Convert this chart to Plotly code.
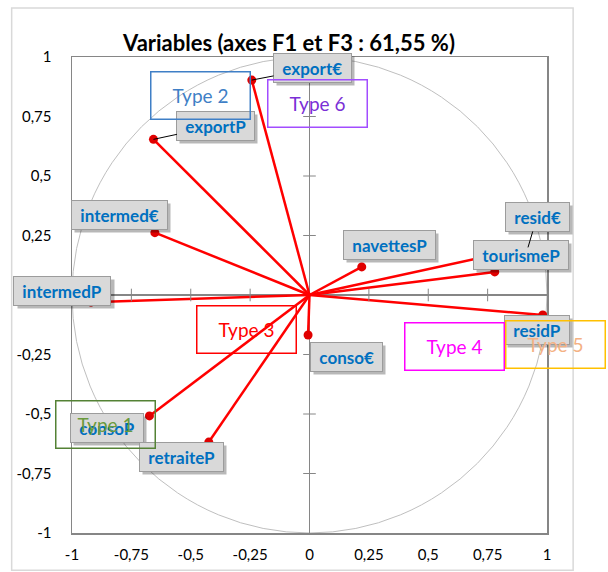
import plotly.graph_objects as go

# ---- data ----
variables = ["export€", "exportP", "intermed€", "intermedP", "navettesP",
             "tourismeP", "resid€", "residP", "conso€", "consoP", "retraiteP"]
f1 = [-0.243, -0.657, -0.651, -0.92, 0.22, 0.78, 0.92, 0.982, -0.006, -0.674, -0.424]
f3 = [0.903, 0.654, 0.262, -0.03, 0.118, 0.097, 0.20, -0.084, -0.168, -0.508, -0.618]

tick_vals = [-1, -0.75, -0.5, -0.25, 0, 0.25, 0.5, 0.75, 1]
tick_text = ["-1", "-0,75", "-0,5", "-0,25", "0", "0,25", "0,5", "0,75", "1"]
inner_ticks = [-0.75, -0.5, -0.25, 0.25, 0.5, 0.75]

type_names = ["Type 1", "Type 2", "Type 3", "Type 4", "Type 5", "Type 6"]

title_text = "Variables (axes F1 et F3 : 61,55 %)"

# ---- layout positions (label centres, in axis units) ----
label_pos = {
    "export€": (0.013, 0.952),
    "exportP": (-0.394, 0.71),
    "intermed€": (-0.80, 0.336),
    "intermedP": (-1.04, 0.017),
    "navettesP": (0.335, 0.21),
    "tourismeP": (0.89, 0.168),
    "resid€": (0.958, 0.328),
    "residP": (0.958, -0.147),
    "conso€": (0.157, -0.26),
    "consoP": (-0.852, -0.559),
    "retraiteP": (-0.538, -0.68),
}
leaders = {"export€", "exportP", "resid€"}

type_pos = {
    "Type 1": (-0.86, -0.544),
    "Type 2": (-0.46, 0.84),
    "Type 3": (-0.265, -0.143),
    "Type 4": (0.612, -0.216),
    "Type 5": (1.036, -0.21),
    "Type 6": (0.034, 0.805),
}
type_style = {
    "Type 1": ("#548235", "#6a9a3c"),
    "Type 2": ("#3f7fc6", "#3f7fc6"),
    "Type 3": ("#ff0000", "#ff0000"),
    "Type 4": ("#ff00ff", "#ff00ff"),
    "Type 5": ("#ffc000", "#f4b183"),
    "Type 6": ("#a24dff", "#7b2fd6"),
}

FONT = "Lato"
AXIS_GREY = "#868686"


def to_paper(v):
    # axis range is [-1, 1] over the full domain
    return (v + 1) / 2.0


fig = go.Figure()

# vectors from origin
lx, ly = [], []
for a, b in zip(f1, f3):
    lx += [0, a, None]
    ly += [0, b, None]
fig.add_trace(go.Scatter(x=lx, y=ly, mode="lines",
                         line=dict(color="#ff0000", width=2.5),
                         hoverinfo="skip", showlegend=False))
fig.add_trace(go.Scatter(x=f1, y=f3, mode="markers",
                         marker=dict(color="#e00000", size=9),
                         text=variables, showlegend=False))

# tick crosses on the zero axes
fig.add_trace(go.Scatter(x=inner_ticks, y=[0] * len(inner_ticks), mode="markers",
                         marker=dict(symbol="line-ns", size=9,
                                     line=dict(color=AXIS_GREY, width=1)),
                         hoverinfo="skip", showlegend=False))
fig.add_trace(go.Scatter(x=[0] * len(inner_ticks), y=inner_ticks, mode="markers",
                         marker=dict(symbol="line-ew", size=9,
                                     line=dict(color=AXIS_GREY, width=1)),
                         hoverinfo="skip", showlegend=False))

shapes = [
    # correlation circle
    dict(type="circle", xref="x", yref="y", x0=-1, y0=-1, x1=1, y1=1,
         line=dict(color="#bfbfbf", width=1), layer="below"),
    # outer chart border
    dict(type="rect", xref="paper", yref="paper", x0=-0.127, x1=1.055,
         y0=-0.078, y1=1.103, line=dict(color="#d9d9d9", width=1.5)),
]

LBL_FONT = 17
annotations = []
for v, a, b in zip(variables, f1, f3):
    cx, cy = label_pos[v]
    common = dict(text="&nbsp;<b>%s</b>&nbsp;" % v, borderpad=4, borderwidth=1,
                  height=20, xanchor="center", yanchor="middle")
    if v in leaders:
        annotations.append(dict(x=a, y=b, ax=cx, ay=cy, axref="x", ayref="y",
                                xref="x", yref="y", showarrow=True, arrowhead=0,
                                arrowwidth=0.1, arrowcolor="rgba(0,0,0,0)",
                                font=dict(family=FONT, size=LBL_FONT, color="rgba(0,0,0,0)"),
                                bgcolor="rgba(0,0,0,0.28)", bordercolor="rgba(0,0,0,0)",
                                xshift=3, yshift=-3, **common))
        annotations.append(dict(x=a, y=b, ax=cx, ay=cy, axref="x", ayref="y",
                                xref="x", yref="y", showarrow=True, arrowhead=0,
                                arrowwidth=1, arrowcolor="#000000", standoff=0,
                                font=dict(family=FONT, size=LBL_FONT, color="#0070c0"),
                                bgcolor="#d9d9d9", bordercolor="#9c9c9c", **common))
    else:
        px_, py_ = to_paper(cx), to_paper(cy)
        annotations.append(dict(x=px_, y=py_, xref="paper", yref="paper", showarrow=False,
                                font=dict(family=FONT, size=LBL_FONT, color="rgba(0,0,0,0)"),
                                bgcolor="rgba(0,0,0,0.28)", bordercolor="rgba(0,0,0,0)",
                                xshift=3, yshift=-3, **common))
        annotations.append(dict(x=px_, y=py_, xref="paper", yref="paper", showarrow=False,
                                font=dict(family=FONT, size=LBL_FONT, color="#0070c0"),
                                bgcolor="#d9d9d9", bordercolor="#9c9c9c", **common))

for t in type_names:
    cx, cy = type_pos[t]
    bc, tc = type_style[t]
    annotations.append(dict(x=to_paper(cx), y=to_paper(cy), xref="paper", yref="paper",
                            xanchor="center", yanchor="middle",
                            showarrow=False, text=t, width=96, height=44, borderpad=1,
                            borderwidth=1.5, bordercolor=bc,
                            font=dict(family=FONT, size=19, color=tc)))

fig.update_layout(
    width=608, height=572,
    margin=dict(l=72, r=61, t=57, b=39, autoexpand=False),
    paper_bgcolor="white", plot_bgcolor="white",
    showlegend=False,
    title=dict(text="<b>%s</b>" % title_text, x=289 / 608, xref="container",
               xanchor="center", y=1 - 43 / 572, yref="container", yanchor="middle",
               font=dict(family=FONT, size=22, color="black")),
    shapes=shapes, annotations=annotations,
    font=dict(family=FONT, size=15, color="black"),
)
axis_common = dict(range=[-1, 1], tickvals=tick_vals, ticktext=tick_text,
                   showgrid=False, zeroline=True, zerolinecolor=AXIS_GREY,
                   zerolinewidth=1.5, showline=True, mirror=True,
                   linecolor=AXIS_GREY, linewidth=1.5, ticks="outside",
                   tickcolor="rgba(0,0,0,0)", automargin=False,
                   tickfont=dict(family=FONT, size=15, color="black"),
                   fixedrange=True)
fig.update_xaxes(ticklen=7, **axis_common)
fig.update_yaxes(ticklen=16, **axis_common)

fig.write_html("out.html",
               config={"displayModeBar": False, "staticPlot": True},
               post_script="document.body.style.margin='0';document.body.style.overflow='hidden';")
